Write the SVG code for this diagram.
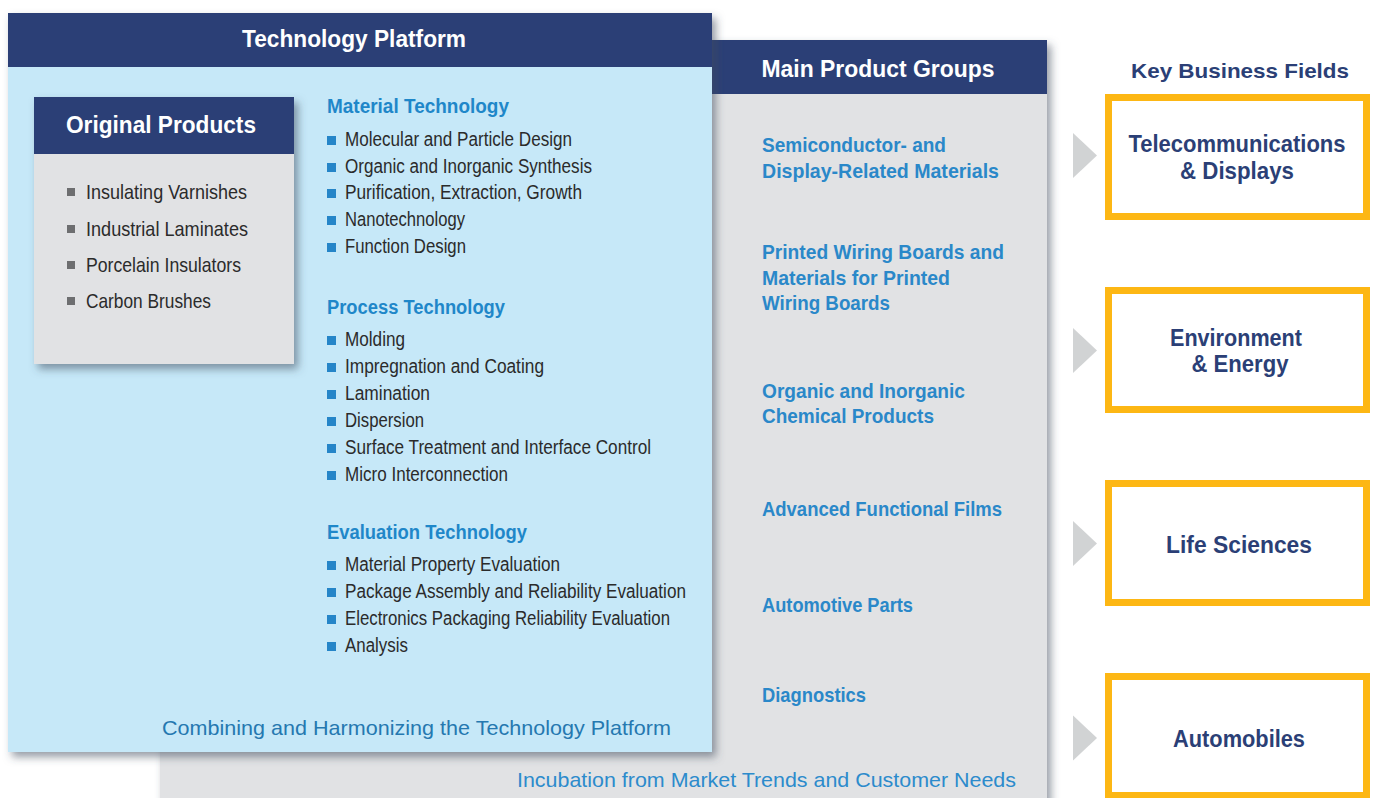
<svg xmlns="http://www.w3.org/2000/svg" width="1375" height="798" viewBox="0 0 1375 798">
  <style>
    text { font-family: "Liberation Sans Narrow", "Liberation Sans", Arial, sans-serif; }
    .hdr { fill: #ffffff; font-weight: bold; font-size: 24px; }
    .sec { fill: #1f87c9; font-weight: bold; font-size: 20px; }
    .item { fill: #2b2b2b; font-size: 19.5px; }
    .orig { fill: #2b2b2b; font-size: 21px; }
    .grp { fill: #2a88c9; font-weight: bold; font-size: 20.5px; }
    .cap { fill: #2578b0; font-size: 21px; }
    .cap2 { fill: #2c8bcc; font-size: 21px; }
    .field { fill: #2b3f76; font-weight: bold; font-size: 24px; }
    .kbf { fill: #2b3f76; font-weight: bold; font-size: 20.5px; }
    .navy { fill: #2b3f76; }
    .bul { fill: #2585c8; }
    .gbul { fill: #6d6e70; }
    .arrow { fill: #d1d3d4; }
    .fieldbox { fill: #ffffff; stroke: #fdb714; stroke-width: 7; }
  </style>
  <defs>
    <filter id="drop" x="-5%" y="-5%" width="115%" height="115%">
      <feDropShadow dx="4" dy="5" stdDeviation="4" flood-color="#3d4c5c" flood-opacity="0.55"/>
    </filter>
    <polygon id="tri" class="arrow" points="0,-22.5 24,0 0,22.5"/>
  </defs>

  <rect width="1375" height="798" fill="#ffffff"/>

  <!-- Main product groups panel (behind) -->
  <g id="main-product-groups">
    <rect x="160" y="40" width="887" height="780" fill="#e1e2e4" filter="url(#drop)"/>
    <rect x="160" y="40" width="887" height="54" class="navy"/>
    <text class="hdr" x="878" y="77" text-anchor="middle" font-size="23" textLength="233" lengthAdjust="spacingAndGlyphs">Main Product Groups</text>
    <text class="grp" x="762" y="152" textLength="184" lengthAdjust="spacingAndGlyphs">Semiconductor- and</text>
    <text class="grp" x="762" y="178" textLength="237" lengthAdjust="spacingAndGlyphs">Display-Related Materials</text>
    <text class="grp" x="762" y="259" textLength="242" lengthAdjust="spacingAndGlyphs">Printed Wiring Boards and</text>
    <text class="grp" x="762" y="285" textLength="188" lengthAdjust="spacingAndGlyphs">Materials for Printed</text>
    <text class="grp" x="762" y="310" textLength="128" lengthAdjust="spacingAndGlyphs">Wiring Boards</text>
    <text class="grp" x="762" y="398" textLength="203" lengthAdjust="spacingAndGlyphs">Organic and Inorganic</text>
    <text class="grp" x="762" y="423" textLength="172" lengthAdjust="spacingAndGlyphs">Chemical Products</text>
    <text class="grp" x="762" y="516" textLength="240" lengthAdjust="spacingAndGlyphs">Advanced Functional Films</text>
    <text class="grp" x="762" y="612" textLength="151" lengthAdjust="spacingAndGlyphs">Automotive Parts</text>
    <text class="grp" x="762" y="702" textLength="104" lengthAdjust="spacingAndGlyphs">Diagnostics</text>
    <text class="cap2" x="517" y="787" textLength="499" lengthAdjust="spacingAndGlyphs">Incubation from Market Trends and Customer Needs</text>
  </g>

  <!-- Technology platform panel -->
  <g id="technology-platform">
    <rect x="8" y="13" width="704" height="739" fill="#c6e8f8" filter="url(#drop)"/>
    <rect x="8" y="13" width="704" height="54" class="navy"/>
    <text class="hdr" x="354" y="47" text-anchor="middle" font-size="23" textLength="224" lengthAdjust="spacingAndGlyphs">Technology Platform</text>

    <text class="sec" x="327" y="113" textLength="182" lengthAdjust="spacingAndGlyphs">Material Technology</text>
    <g class="bul">
      <rect x="327" y="136" width="9" height="9"/>
      <rect x="327" y="163" width="9" height="9"/>
      <rect x="327" y="189" width="9" height="9"/>
      <rect x="327" y="216" width="9" height="9"/>
      <rect x="327" y="243" width="9" height="9"/>
    </g>
    <text class="item" x="345" y="146" textLength="227" lengthAdjust="spacingAndGlyphs">Molecular and Particle Design</text>
    <text class="item" x="345" y="173" textLength="247" lengthAdjust="spacingAndGlyphs">Organic and Inorganic Synthesis</text>
    <text class="item" x="345" y="199" textLength="237" lengthAdjust="spacingAndGlyphs">Purification, Extraction, Growth</text>
    <text class="item" x="345" y="226" textLength="120" lengthAdjust="spacingAndGlyphs">Nanotechnology</text>
    <text class="item" x="345" y="253" textLength="121" lengthAdjust="spacingAndGlyphs">Function Design</text>

    <text class="sec" x="327" y="314" textLength="178" lengthAdjust="spacingAndGlyphs">Process Technology</text>
    <g class="bul">
      <rect x="327" y="336" width="9" height="9"/>
      <rect x="327" y="363" width="9" height="9"/>
      <rect x="327" y="390" width="9" height="9"/>
      <rect x="327" y="417" width="9" height="9"/>
      <rect x="327" y="444" width="9" height="9"/>
      <rect x="327" y="471" width="9" height="9"/>
    </g>
    <text class="item" x="345" y="346" textLength="60" lengthAdjust="spacingAndGlyphs">Molding</text>
    <text class="item" x="345" y="373" textLength="199" lengthAdjust="spacingAndGlyphs">Impregnation and Coating</text>
    <text class="item" x="345" y="400" textLength="85" lengthAdjust="spacingAndGlyphs">Lamination</text>
    <text class="item" x="345" y="427" textLength="79" lengthAdjust="spacingAndGlyphs">Dispersion</text>
    <text class="item" x="345" y="454" textLength="306" lengthAdjust="spacingAndGlyphs">Surface Treatment and Interface Control</text>
    <text class="item" x="345" y="481" textLength="163" lengthAdjust="spacingAndGlyphs">Micro Interconnection</text>

    <text class="sec" x="327" y="539" textLength="200" lengthAdjust="spacingAndGlyphs">Evaluation Technology</text>
    <g class="bul">
      <rect x="327" y="561" width="9" height="9"/>
      <rect x="327" y="588" width="9" height="9"/>
      <rect x="327" y="615" width="9" height="9"/>
      <rect x="327" y="642" width="9" height="9"/>
    </g>
    <text class="item" x="345" y="571" textLength="215" lengthAdjust="spacingAndGlyphs">Material Property Evaluation</text>
    <text class="item" x="345" y="598" textLength="341" lengthAdjust="spacingAndGlyphs">Package Assembly and Reliability Evaluation</text>
    <text class="item" x="345" y="625" textLength="325" lengthAdjust="spacingAndGlyphs">Electronics Packaging Reliability Evaluation</text>
    <text class="item" x="345" y="652" textLength="63" lengthAdjust="spacingAndGlyphs">Analysis</text>

    <text class="cap" x="162" y="735" textLength="509" lengthAdjust="spacingAndGlyphs">Combining and Harmonizing the Technology Platform</text>
  </g>

  <!-- Original products box -->
  <g id="original-products">
    <rect x="34" y="97" width="260" height="267" fill="#e1e2e4" filter="url(#drop)"/>
    <rect x="34" y="97" width="260" height="57" class="navy"/>
    <text class="hdr" x="161" y="133" text-anchor="middle" textLength="190" lengthAdjust="spacingAndGlyphs">Original Products</text>
    <g class="gbul">
      <rect x="67" y="188" width="8" height="8"/>
      <rect x="67" y="225" width="8" height="8"/>
      <rect x="67" y="261" width="8" height="8"/>
      <rect x="67" y="297" width="8" height="8"/>
    </g>
    <text class="orig" x="86" y="199" textLength="161" lengthAdjust="spacingAndGlyphs">Insulating Varnishes</text>
    <text class="orig" x="86" y="236" textLength="162" lengthAdjust="spacingAndGlyphs">Industrial Laminates</text>
    <text class="orig" x="86" y="272" textLength="155" lengthAdjust="spacingAndGlyphs">Porcelain Insulators</text>
    <text class="orig" x="86" y="308" textLength="125" lengthAdjust="spacingAndGlyphs">Carbon Brushes</text>
  </g>

  <!-- Key business fields -->
  <text class="kbf" x="1240" y="78" text-anchor="middle" textLength="218" lengthAdjust="spacingAndGlyphs">Key Business Fields</text>

  <g id="connectors">
    <use href="#tri" x="1073" y="155.5"/>
    <use href="#tri" x="1073" y="350.5"/>
    <use href="#tri" x="1073" y="543.5"/>
    <use href="#tri" x="1073" y="738"/>
  </g>

  <g id="field-telecom">
    <rect class="fieldbox" x="1108.5" y="97.5" width="258" height="119"/>
    <text class="field" x="1237" y="152" text-anchor="middle" textLength="217" lengthAdjust="spacingAndGlyphs">Telecommunications</text>
    <text class="field" x="1237" y="179" text-anchor="middle" textLength="114" lengthAdjust="spacingAndGlyphs">&amp; Displays</text>
  </g>
  <g id="field-environment">
    <rect class="fieldbox" x="1108.5" y="290.5" width="258" height="119"/>
    <text class="field" x="1236" y="346" text-anchor="middle" textLength="132" lengthAdjust="spacingAndGlyphs">Environment</text>
    <text class="field" x="1240" y="372" text-anchor="middle" textLength="97" lengthAdjust="spacingAndGlyphs">&amp; Energy</text>
  </g>
  <g id="field-life-sciences">
    <rect class="fieldbox" x="1108.5" y="483.5" width="258" height="119"/>
    <text class="field" x="1239" y="553" text-anchor="middle" textLength="146" lengthAdjust="spacingAndGlyphs">Life Sciences</text>
  </g>
  <g id="field-automobiles">
    <rect class="fieldbox" x="1108.5" y="676.5" width="258" height="119"/>
    <text class="field" x="1239" y="747" text-anchor="middle" textLength="132" lengthAdjust="spacingAndGlyphs">Automobiles</text>
  </g>
</svg>
